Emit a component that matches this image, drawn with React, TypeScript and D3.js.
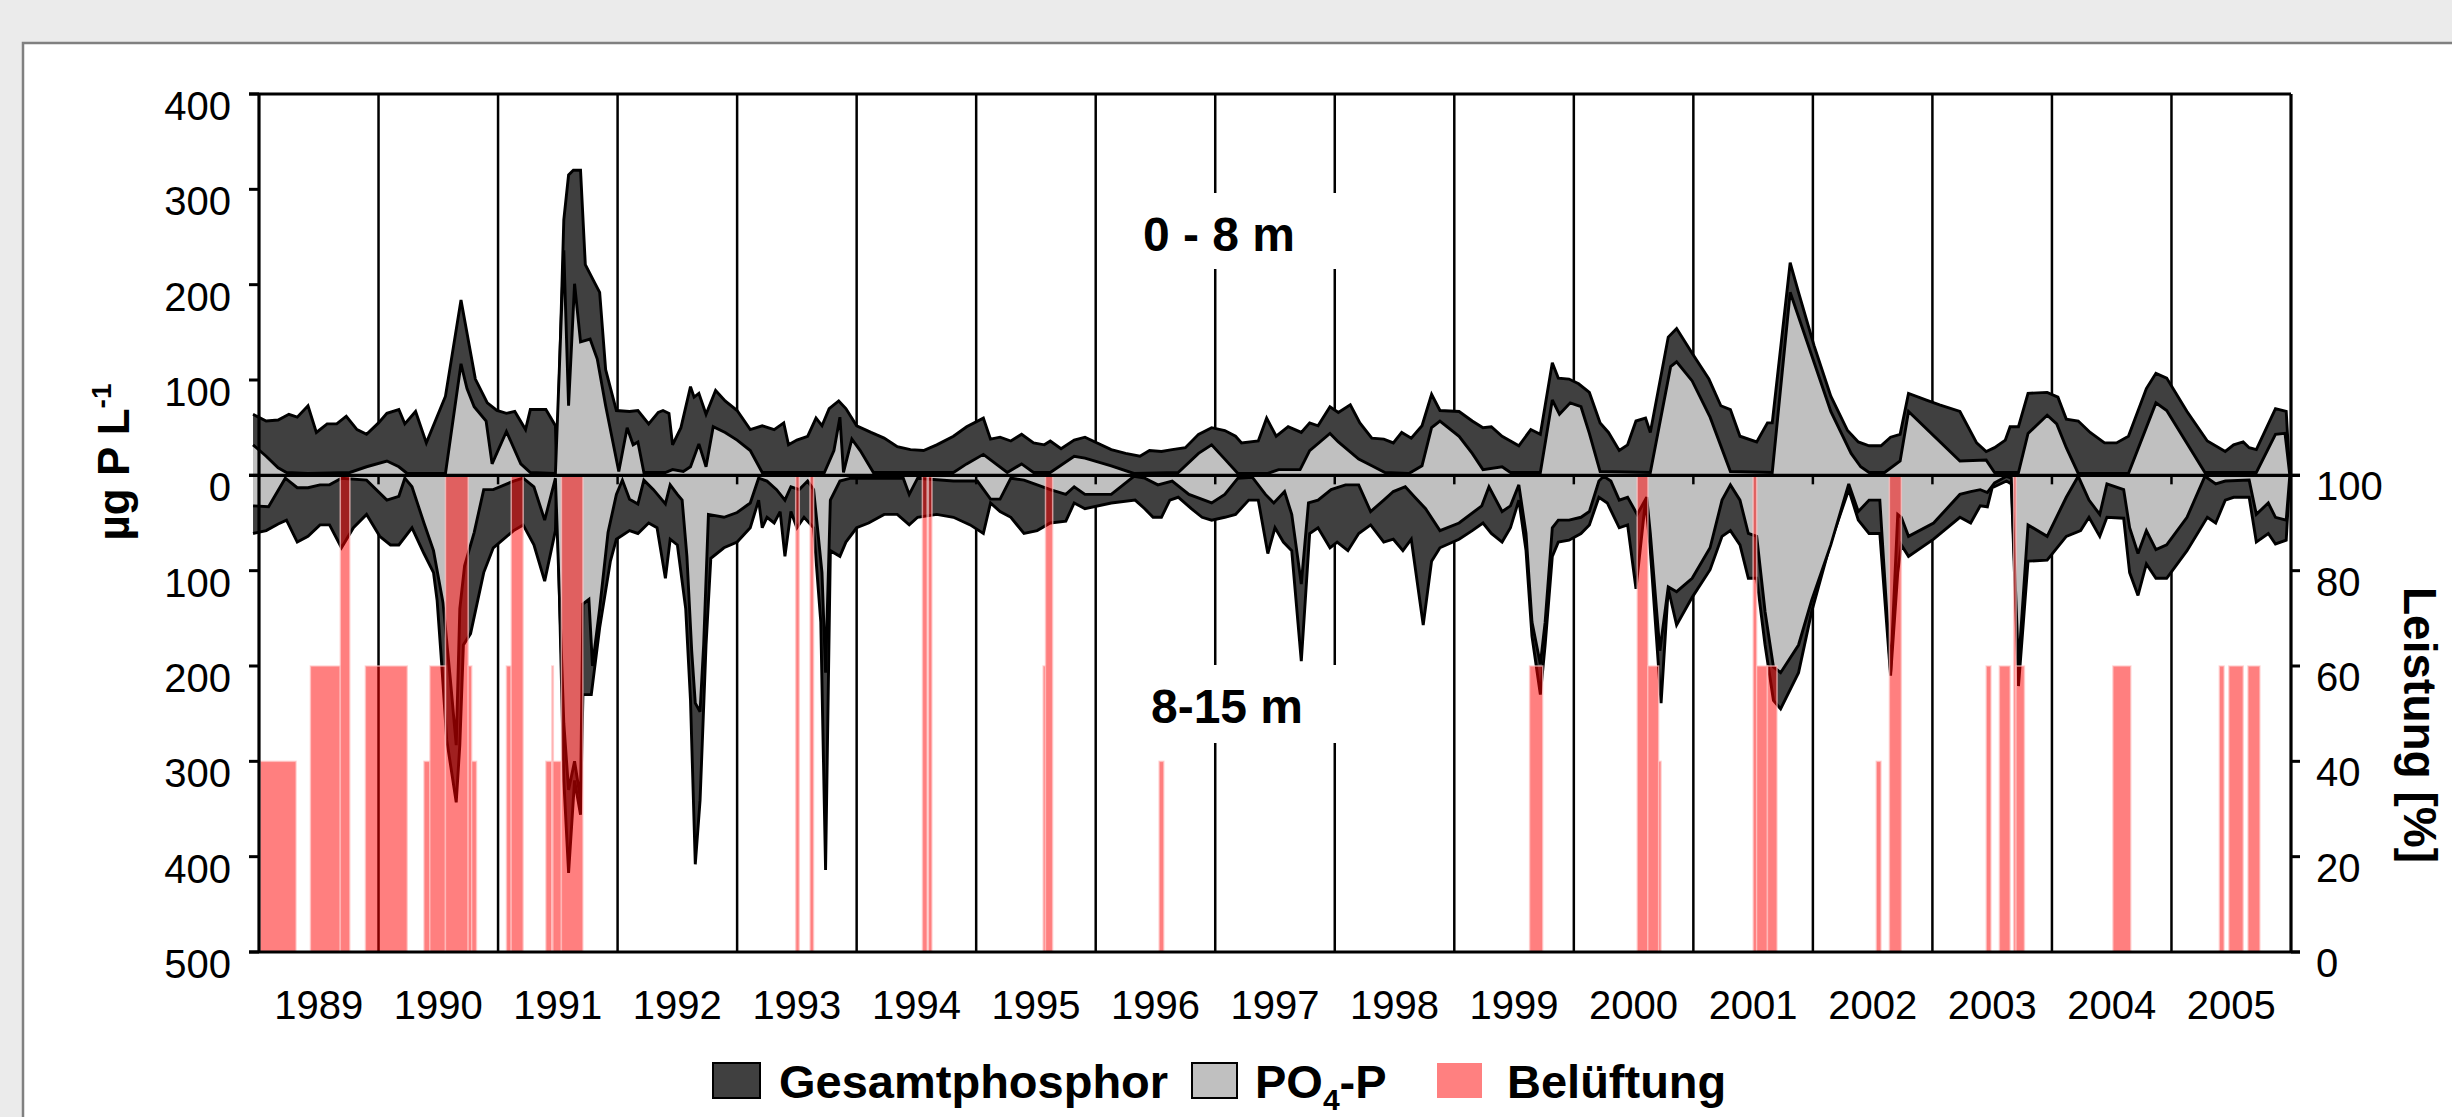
import React from "react";
import * as d3 from "d3";

type Pt = [number, number];

// sampling date (decimal year), value in µg P/L
const tpTop: Pt[] = [
  [1988.95, 64], [1989.06, 57], [1989.16, 58], [1989.25, 64], [1989.32, 61], [1989.41, 73], [1989.48, 45], [1989.57, 54],
  [1989.65, 54], [1989.73, 62], [1989.82, 48], [1989.9, 43], [1990.0, 55], [1990.07, 65], [1990.17, 69], [1990.22, 54],
  [1990.31, 67], [1990.4, 34], [1990.56, 83], [1990.69, 184], [1990.81, 101], [1990.91, 76], [1990.99, 68], [1991.07, 65],
  [1991.14, 67], [1991.23, 48], [1991.27, 69], [1991.4, 69], [1991.48, 52], [1991.49, 3], [1991.55, 268], [1991.59, 315],
  [1991.63, 320], [1991.69, 320], [1991.73, 221], [1991.8, 204], [1991.85, 192], [1991.9, 111], [1991.99, 68], [1992.1, 67],
  [1992.17, 68], [1992.26, 54], [1992.34, 66], [1992.38, 68], [1992.43, 65], [1992.46, 32], [1992.53, 50], [1992.61, 93],
  [1992.64, 82], [1992.68, 86], [1992.74, 64], [1992.82, 89], [1992.9, 78], [1993.0, 68], [1993.11, 48], [1993.21, 52],
  [1993.31, 48], [1993.39, 55], [1993.43, 32], [1993.5, 37], [1993.59, 41], [1993.66, 60], [1993.71, 52], [1993.77, 70],
  [1993.85, 78], [1993.91, 70], [1994.0, 52], [1994.12, 45], [1994.23, 39], [1994.34, 30], [1994.45, 27], [1994.56, 26],
  [1994.67, 32], [1994.81, 41], [1994.92, 51], [1995.06, 60], [1995.12, 38], [1995.2, 40], [1995.29, 36], [1995.38, 43],
  [1995.48, 34], [1995.57, 32], [1995.62, 36], [1995.71, 28], [1995.82, 37], [1995.91, 40], [1996.13, 27], [1996.25, 23],
  [1996.37, 20], [1996.45, 26], [1996.55, 25], [1996.64, 27], [1996.75, 29], [1996.86, 43], [1996.97, 50], [1997.08, 47],
  [1997.17, 41], [1997.22, 34], [1997.36, 36], [1997.43, 60], [1997.51, 41], [1997.61, 51], [1997.72, 45], [1997.79, 55],
  [1997.86, 52], [1997.96, 72], [1998.03, 66], [1998.13, 74], [1998.21, 55], [1998.31, 39], [1998.41, 38], [1998.49, 34],
  [1998.56, 45], [1998.64, 39], [1998.73, 52], [1998.81, 85], [1998.88, 68], [1999.04, 67], [1999.15, 57], [1999.24, 50],
  [1999.31, 51], [1999.4, 41], [1999.47, 36], [1999.54, 31], [1999.64, 48], [1999.72, 43], [1999.82, 118], [1999.87, 102],
  [1999.96, 101], [2000.04, 96], [2000.13, 87], [2000.22, 55], [2000.29, 45], [2000.38, 26], [2000.45, 32], [2000.52, 57],
  [2000.6, 60], [2000.64, 45], [2000.79, 145], [2000.86, 154], [2000.99, 128], [2001.13, 101], [2001.23, 73], [2001.31, 69],
  [2001.39, 41], [2001.53, 35], [2001.62, 55], [2001.66, 55], [2001.81, 223], [2001.88, 192], [2002.01, 136], [2002.15, 83],
  [2002.29, 47], [2002.38, 35], [2002.47, 31], [2002.57, 31], [2002.65, 40], [2002.73, 43], [2002.8, 86], [2002.95, 79],
  [2003.06, 74], [2003.23, 67], [2003.37, 34], [2003.45, 25], [2003.52, 29], [2003.61, 37], [2003.65, 51], [2003.72, 51],
  [2003.8, 86], [2003.96, 87], [2004.05, 82], [2004.12, 59], [2004.22, 57], [2004.32, 45], [2004.44, 34], [2004.54, 34],
  [2004.64, 41], [2004.79, 91], [2004.87, 107], [2004.96, 102], [2005.13, 67], [2005.3, 36], [2005.45, 25], [2005.52, 32],
  [2005.6, 35], [2005.65, 29], [2005.71, 27], [2005.87, 70], [2005.96, 67], [2005.99, 0],
];

const po4Top: Pt[] = [
  [1988.95, 32], [1989.06, 20], [1989.16, 8], [1989.23, 3], [1989.41, 2], [1989.76, 3], [1989.9, 9], [1990.07, 15],
  [1990.17, 9], [1990.24, 2], [1990.56, 2], [1990.69, 117], [1990.74, 91], [1990.8, 72], [1990.9, 57], [1990.95, 12],
  [1991.07, 46], [1991.19, 12], [1991.27, 3], [1991.48, 2], [1991.55, 236], [1991.59, 73], [1991.64, 201], [1991.69, 140],
  [1991.77, 143], [1991.83, 122], [1991.9, 73], [1992.01, 4], [1992.08, 50], [1992.13, 32], [1992.17, 35], [1992.22, 3],
  [1992.4, 3], [1992.46, 6], [1992.55, 4], [1992.61, 9], [1992.68, 33], [1992.74, 9], [1992.8, 51], [1992.9, 45],
  [1993.0, 37], [1993.11, 26], [1993.21, 3], [1993.73, 3], [1993.81, 26], [1993.86, 61], [1993.89, 3], [1993.96, 38],
  [1994.03, 26], [1994.14, 3], [1994.81, 3], [1994.92, 12], [1995.06, 22], [1995.26, 3], [1995.38, 12], [1995.48, 3],
  [1995.62, 3], [1995.82, 20], [1995.91, 18], [1996.13, 10], [1996.32, 2], [1996.69, 3], [1996.86, 23], [1996.97, 32],
  [1997.08, 17], [1997.19, 2], [1997.44, 2], [1997.53, 6], [1997.71, 6], [1997.79, 26], [1997.96, 44], [1998.03, 35],
  [1998.2, 17], [1998.31, 10], [1998.42, 3], [1998.62, 2], [1998.73, 10], [1998.81, 50], [1998.88, 57], [1999.04, 41],
  [1999.15, 23], [1999.24, 6], [1999.4, 9], [1999.47, 3], [1999.72, 3], [1999.82, 79], [1999.88, 64], [1999.97, 76],
  [2000.06, 72], [2000.13, 44], [2000.22, 4], [2000.64, 3], [2000.81, 114], [2000.86, 119], [2000.99, 99], [2001.14, 61],
  [2001.31, 4], [2001.66, 3], [2001.81, 192], [2002.15, 67], [2002.32, 23], [2002.4, 9], [2002.47, 3], [2002.6, 3],
  [2002.73, 15], [2002.8, 67], [2003.23, 15], [2003.45, 16], [2003.52, 3], [2003.72, 3], [2003.8, 44], [2003.96, 63],
  [2004.04, 54], [2004.12, 29], [2004.22, 2], [2004.64, 2], [2004.87, 76], [2004.96, 68], [2005.28, 3], [2005.71, 3],
  [2005.87, 43], [2005.95, 44], [2005.99, 0],
];

const tpBottom: Pt[] = [
  [1988.95, 61], [1989.06, 58], [1989.16, 51], [1989.23, 47], [1989.32, 70], [1989.41, 64], [1989.51, 52], [1989.59, 52],
  [1989.69, 76], [1989.79, 55], [1989.9, 41], [1990.01, 64], [1990.1, 73], [1990.17, 73], [1990.28, 55], [1990.38, 82],
  [1990.46, 102], [1990.49, 131], [1990.53, 201], [1990.57, 277], [1990.65, 343], [1990.68, 283], [1990.71, 178], [1990.77, 166],
  [1990.88, 102], [1990.96, 76], [1991.13, 58], [1991.21, 52], [1991.3, 73], [1991.39, 111], [1991.48, 58], [1991.49, 3],
  [1991.55, 320], [1991.59, 417], [1991.64, 320], [1991.69, 356], [1991.71, 230], [1991.78, 230], [1991.85, 160], [1991.94, 90],
  [1991.99, 67], [1992.1, 58], [1992.17, 61], [1992.26, 50], [1992.33, 55], [1992.4, 108], [1992.44, 67], [1992.5, 73],
  [1992.57, 140], [1992.61, 236], [1992.65, 408], [1992.69, 341], [1992.74, 178], [1992.78, 87], [1992.89, 76], [1993.0, 70],
  [1993.11, 55], [1993.18, 26], [1993.21, 55], [1993.25, 44], [1993.31, 50], [1993.36, 38], [1993.4, 85], [1993.45, 38],
  [1993.5, 55], [1993.56, 44], [1993.64, 55], [1993.7, 154], [1993.74, 414], [1993.78, 79], [1993.86, 85], [1993.91, 70],
  [1994.0, 55], [1994.1, 50], [1994.23, 41], [1994.34, 41], [1994.44, 52], [1994.51, 44], [1994.67, 41], [1994.81, 44],
  [1994.95, 52], [1995.06, 61], [1995.12, 29], [1995.2, 38], [1995.29, 44], [1995.4, 61], [1995.51, 58], [1995.62, 50],
  [1995.75, 48], [1995.82, 29], [1995.91, 35], [1996.13, 29], [1996.33, 26], [1996.41, 35], [1996.48, 44], [1996.55, 44],
  [1996.62, 26], [1996.69, 23], [1996.8, 35], [1996.89, 44], [1996.97, 47], [1997.08, 44], [1997.17, 41], [1997.28, 26],
  [1997.36, 26], [1997.44, 82], [1997.5, 55], [1997.57, 70], [1997.64, 79], [1997.72, 195], [1997.79, 61], [1997.86, 55],
  [1997.96, 76], [1998.02, 70], [1998.11, 79], [1998.2, 61], [1998.3, 52], [1998.41, 70], [1998.49, 67], [1998.57, 79],
  [1998.64, 67], [1998.74, 157], [1998.81, 90], [1998.88, 76], [1999.04, 67], [1999.15, 58], [1999.24, 50], [1999.31, 61],
  [1999.4, 70], [1999.47, 55], [1999.54, 26], [1999.6, 79], [1999.65, 169], [1999.72, 230], [1999.76, 178], [1999.82, 85],
  [1999.87, 70], [1999.96, 68], [2000.06, 61], [2000.13, 52], [2000.21, 23], [2000.28, 29], [2000.38, 55], [2000.45, 52],
  [2000.52, 119], [2000.6, 26], [2000.64, 79], [2000.73, 239], [2000.79, 119], [2000.86, 157], [2000.99, 128], [2001.14, 99],
  [2001.24, 64], [2001.31, 58], [2001.39, 73], [2001.46, 108], [2001.53, 108], [2001.6, 178], [2001.67, 236], [2001.73, 245],
  [2001.88, 207], [2001.99, 143], [2002.15, 70], [2002.3, 15], [2002.38, 47], [2002.47, 61], [2002.56, 61], [2002.65, 210],
  [2002.71, 102], [2002.74, 73], [2002.8, 85], [2003.01, 67], [2003.23, 44], [2003.32, 50], [2003.4, 32], [2003.46, 33],
  [2003.5, 13], [2003.62, 6], [2003.66, 9], [2003.72, 221], [2003.8, 90], [2003.96, 89], [2004.12, 64], [2004.24, 58],
  [2004.31, 44], [2004.4, 64], [2004.46, 44], [2004.6, 45], [2004.65, 102], [2004.72, 126], [2004.79, 93], [2004.87, 108],
  [2004.96, 108], [2005.13, 79], [2005.3, 44], [2005.37, 50], [2005.45, 26], [2005.52, 23], [2005.65, 23], [2005.71, 70],
  [2005.81, 61], [2005.87, 72], [2005.96, 68], [2005.99, 0],
];

const po4Bottom: Pt[] = [
  [1988.95, 32], [1989.08, 33], [1989.22, 3], [1989.32, 13], [1989.41, 13], [1989.51, 10], [1989.59, 10], [1989.69, 3],
  [1989.9, 5], [1990.07, 26], [1990.17, 22], [1990.22, 3], [1990.28, 12], [1990.38, 50], [1990.46, 79], [1990.54, 134],
  [1990.6, 213], [1990.65, 283], [1990.68, 140], [1990.72, 95], [1990.8, 60], [1990.88, 15], [1990.96, 15], [1991.13, 6],
  [1991.21, 3], [1991.3, 12], [1991.39, 47], [1991.48, 3], [1991.55, 260], [1991.59, 330], [1991.64, 300], [1991.69, 340],
  [1991.71, 135], [1991.76, 130], [1991.79, 200], [1991.85, 140], [1991.92, 60], [1991.99, 20], [1992.04, 5], [1992.1, 25],
  [1992.17, 30], [1992.22, 5], [1992.3, 15], [1992.4, 30], [1992.44, 10], [1992.5, 20], [1992.54, 26], [1992.58, 85],
  [1992.62, 184], [1992.65, 239], [1992.69, 248], [1992.72, 178], [1992.76, 41], [1992.89, 44], [1993.0, 39], [1993.11, 29],
  [1993.18, 3], [1993.25, 6], [1993.33, 15], [1993.4, 26], [1993.45, 12], [1993.52, 15], [1993.59, 6], [1993.64, 15],
  [1993.71, 102], [1993.74, 207], [1993.77, 73], [1993.78, 26], [1993.86, 6], [1993.95, 3], [1994.39, 3], [1994.44, 20],
  [1994.51, 3], [1994.81, 6], [1995.01, 6], [1995.12, 25], [1995.2, 25], [1995.29, 3], [1995.4, 5], [1995.51, 10],
  [1995.62, 15], [1995.75, 20], [1995.82, 12], [1995.91, 20], [1996.13, 20], [1996.32, 1], [1996.41, 3], [1996.52, 10],
  [1996.64, 6], [1996.78, 20], [1996.97, 29], [1997.08, 20], [1997.19, 3], [1997.31, 2], [1997.42, 20], [1997.49, 29],
  [1997.58, 17], [1997.64, 41], [1997.72, 114], [1997.78, 29], [1997.86, 26], [1997.97, 15], [1998.09, 10], [1998.2, 10],
  [1998.3, 38], [1998.41, 26], [1998.49, 17], [1998.59, 12], [1998.67, 23], [1998.76, 35], [1998.88, 58], [1999.04, 50],
  [1999.23, 32], [1999.29, 12], [1999.4, 38], [1999.47, 32], [1999.54, 10], [1999.6, 61], [1999.65, 154], [1999.72, 198],
  [1999.76, 154], [1999.82, 55], [1999.87, 47], [1999.96, 47], [2000.06, 44], [2000.13, 38], [2000.21, 6], [2000.25, 1],
  [2000.31, 6], [2000.38, 26], [2000.45, 23], [2000.53, 41], [2000.61, 23], [2000.64, 61], [2000.72, 184], [2000.79, 117],
  [2000.86, 122], [2000.99, 108], [2001.14, 76], [2001.24, 26], [2001.31, 10], [2001.39, 26], [2001.46, 61], [2001.53, 64],
  [2001.6, 143], [2001.67, 201], [2001.73, 207], [2001.88, 178], [2001.99, 131], [2002.15, 73], [2002.3, 9], [2002.38, 38],
  [2002.47, 26], [2002.56, 26], [2002.65, 207], [2002.71, 41], [2002.74, 44], [2002.8, 64], [2003.01, 50], [2003.23, 20],
  [2003.32, 17], [2003.4, 15], [2003.46, 18], [2003.52, 8], [2003.62, 1], [2003.66, 3], [2003.72, 201], [2003.8, 52],
  [2003.96, 64], [2004.12, 23], [2004.22, 1], [2004.31, 26], [2004.4, 41], [2004.46, 9], [2004.6, 15], [2004.65, 55],
  [2004.72, 82], [2004.79, 58], [2004.87, 78], [2004.96, 73], [2005.13, 44], [2005.28, 1], [2005.37, 9], [2005.45, 6],
  [2005.65, 5], [2005.71, 41], [2005.81, 29], [2005.87, 44], [2005.96, 47], [2005.99, 0],
];

// aeration periods: start, end, power in %
const belueftung: [number, number, number][] = [
  [1989.01, 1989.31, 40], [1989.43, 1989.68, 60], [1989.68, 1989.76, 100], [1989.89, 1990.24, 60],
  [1990.38, 1990.43, 40], [1990.43, 1990.56, 60], [1990.56, 1990.75, 100], [1990.75, 1990.78, 60],
  [1990.78, 1990.82, 40], [1991.07, 1991.11, 60], [1991.11, 1991.21, 100], [1991.4, 1991.45, 40],
  [1991.45, 1991.46, 60], [1991.46, 1991.53, 40], [1991.53, 1991.71, 100],
  [1993.49, 1993.52, 100], [1993.61, 1993.64, 100], [1994.55, 1994.59, 100], [1994.6, 1994.63, 100],
  [1995.56, 1995.58, 60], [1995.58, 1995.64, 100], [1996.53, 1996.57, 40],
  [1999.63, 1999.74, 60], [2000.53, 2000.62, 100], [2000.62, 2000.71, 60], [2000.71, 2000.73, 40],
  [2001.5, 2001.53, 100], [2001.53, 2001.62, 60], [2001.62, 2001.7, 60], [2002.53, 2002.57, 40],
  [2002.64, 2002.74, 100], [2003.45, 2003.49, 60], [2003.56, 2003.65, 60], [2003.68, 2003.7, 100],
  [2003.7, 2003.77, 60], [2004.51, 2004.66, 60], [2005.4, 2005.44, 60], [2005.48, 2005.6, 60],
  [2005.64, 2005.74, 60],
];

const years = d3.range(1989, 2006);
const leftTicks = [400, 300, 200, 100, 0, -100, -200, -300, -400, -500];
const rightTicks = [0, 20, 40, 60, 80, 100];

const FONT = "'Liberation Sans', Arial, Helvetica, sans-serif";
const W = 2452;
const H = 1117;
const X0 = 259, X1 = 2291, Y0 = 94, Y1 = 952;

const DARK = "#404040";
const LIGHT = "#c0c0c0";

export default function App() {
  const x = d3.scaleLinear().domain([1989, 2006]).range([X0, X1]);
  const y = d3.scaleLinear().domain([-500, 400]).range([Y1, Y0]);
  const yPct = d3.scaleLinear().domain([0, 100]).range([Y1, y(0)]);
  const zero = y(0);

  const areaUp = d3.area<Pt>().x(d => x(d[0])).y0(zero).y1(d => y(d[1]));
  const areaDown = d3.area<Pt>().x(d => x(d[0])).y0(zero).y1(d => y(-d[1]));
  const lineUp = d3.line<Pt>().x(d => x(d[0])).y(d => y(d[1]));
  const lineDown = d3.line<Pt>().x(d => x(d[0])).y(d => y(-d[1]));

  const edge = { stroke: "#000", strokeWidth: 2.9, fill: "none", strokeLinejoin: "miter" as const, strokeMiterlimit: 3 };

  return (
    <svg width={W} height={H} style={{ position: "absolute", left: 0, top: 0 }} fontFamily={FONT}>
      <rect x={0} y={0} width={W} height={H} fill="#ebebeb" />
      <rect x={23} y={43} width={W + 20} height={H} fill="#fff" stroke="#808080" strokeWidth={2.5} />

      {/* year gridlines */}
      {years.slice(1).map(yr => (
        <line key={yr} x1={x(yr)} x2={x(yr)} y1={Y0} y2={Y1} stroke="#000" strokeWidth={2.5} />
      ))}

      {/* depth labels with white backing */}
      <rect x={1125} y={193} width={220} height={76} fill="#fff" />
      <rect x={1125} y={665} width={220} height={78} fill="#fff" />
      <text x={1219} y={251} fontSize={48} fontWeight="bold" textAnchor="middle">0 - 8 m</text>
      <text x={1227} y={723} fontSize={48} fontWeight="bold" textAnchor="middle">8-15 m</text>

      {/* Gesamtphosphor */}
      <path d={areaUp(tpTop) ?? ""} fill={DARK} />
      <path d={areaDown(tpBottom) ?? ""} fill={DARK} />
      <path d={lineUp(tpTop) ?? ""} {...edge} />
      <path d={lineDown(tpBottom) ?? ""} {...edge} />

      {/* PO4-P */}
      <path d={areaUp(po4Top) ?? ""} fill={LIGHT} />
      <path d={areaDown(po4Bottom) ?? ""} fill={LIGHT} />
      <path d={lineUp(po4Top) ?? ""} {...edge} />
      <path d={lineDown(po4Bottom) ?? ""} {...edge} />

      {/* Belüftung */}
      {belueftung.map(([a, b, p], i) => (
        <rect
          key={i}
          x={x(a)}
          y={yPct(p)}
          width={Math.max(1.5, x(b) - x(a))}
          height={Y1 - yPct(p)}
          fill="#ff0000"
          fillOpacity={0.5}
          stroke="#ffc8c8"
          strokeOpacity={0.7}
          strokeWidth={1.5}
        />
      ))}

      {/* zero line and frame */}
      <line x1={X0 - 10} x2={X1 + 9} y1={zero} y2={zero} stroke="#000" strokeWidth={3.2} />
      {years.slice(1).map(yr => (
        <line key={"t" + yr} x1={x(yr)} x2={x(yr)} y1={zero} y2={zero + 9} stroke="#000" strokeWidth={2.5} />
      ))}
      <line x1={X0 - 10} x2={X1} y1={Y0} y2={Y0} stroke="#000" strokeWidth={3.2} />
      <line x1={X0 - 10} x2={X1 + 9} y1={Y1} y2={Y1} stroke="#000" strokeWidth={3.2} />
      <line x1={X0} x2={X0} y1={Y0} y2={Y1} stroke="#000" strokeWidth={3.2} />
      <line x1={X1} x2={X1} y1={Y0} y2={Y1} stroke="#000" strokeWidth={3.2} />

      {/* left axis */}
      {leftTicks.map(v => (
        <g key={"l" + v}>
          <line x1={X0 - 10} x2={X0} y1={y(v)} y2={y(v)} stroke="#000" strokeWidth={3} />
          <text x={231} y={y(v) + 12} fontSize={40} textAnchor="end" dominantBaseline="central">
            {Math.abs(v)}
          </text>
        </g>
      ))}

      {/* right axis */}
      {rightTicks.map(p => (
        <g key={"r" + p}>
          <line x1={X1} x2={X1 + 9} y1={yPct(p)} y2={yPct(p)} stroke="#000" strokeWidth={3} />
          <text x={2316} y={yPct(p) + 11} fontSize={40} textAnchor="start" dominantBaseline="central">
            {p}
          </text>
        </g>
      ))}

      {/* year labels */}
      {years.map(yr => (
        <text key={"y" + yr} x={x(yr + 0.5)} y={1019} fontSize={40} textAnchor="middle">
          {yr}
        </text>
      ))}

      {/* axis titles */}
      <text transform={`translate(129,462) rotate(-90)`} fontSize={44} fontWeight="bold" textAnchor="middle">
        µg P L<tspan fontSize={28} dy={-18}>-1</tspan>
      </text>
      <text transform={`translate(2404,725) rotate(90)`} fontSize={46} fontWeight="bold" textAnchor="middle">
        Leistung [%]
      </text>

      {/* legend */}
      <rect x={713} y={1063} width={47} height={35} fill={DARK} stroke="#000" strokeWidth={2} />
      <text x={779} y={1098} fontSize={47} fontWeight="bold">Gesamtphosphor</text>
      <rect x={1192} y={1063} width={45} height={35} fill={LIGHT} stroke="#000" strokeWidth={2} />
      <text x={1255} y={1098} fontSize={47} fontWeight="bold">
        PO<tspan fontSize={30} dy={12}>4</tspan><tspan dy={-12}>-P</tspan>
      </text>
      <rect x={1437} y={1063} width={45} height={35} fill="#ff8080" />
      <text x={1507} y={1098} fontSize={47} fontWeight="bold">Belüftung</text>
    </svg>
  );
}
